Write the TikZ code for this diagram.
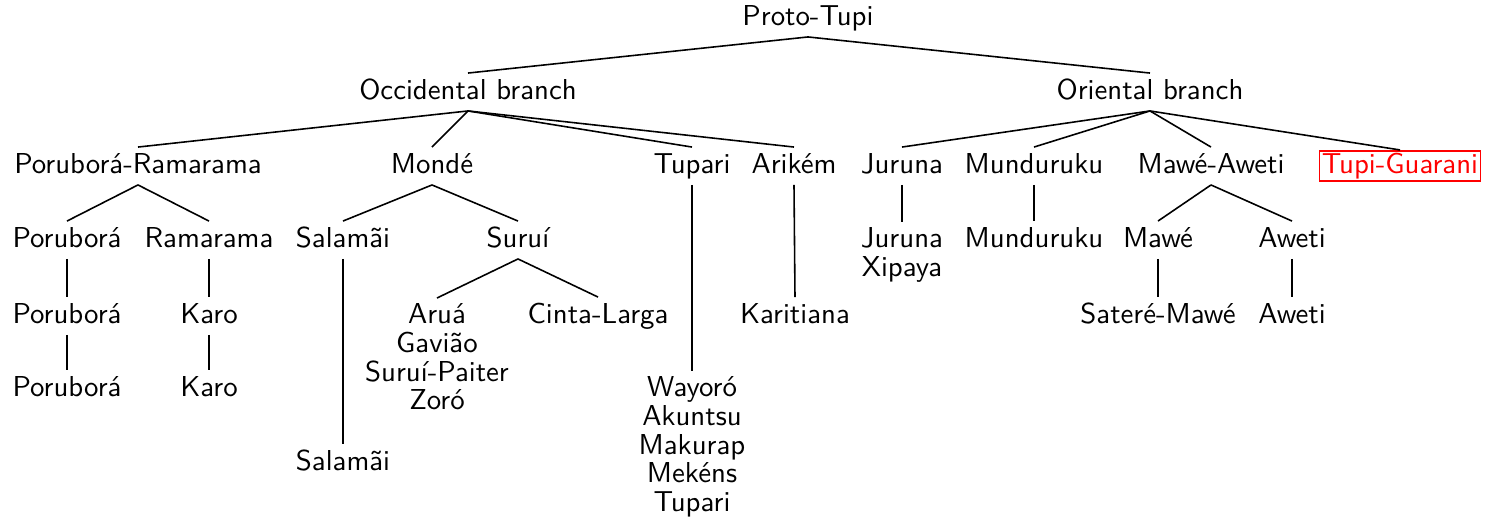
\documentclass[tikz,border=0pt]{standalone}
\usepackage{fontspec}

\begin{document}
\begin{tikzpicture}[x=0.347pt,y=-0.347pt,line width=0.55pt,every node/.style = {font=\sffamily\fontsize{10}{9.9}\selectfont, align=center, text height=7pt, text depth=2pt, inner sep=1.8pt},
  stack/.style = {text height={}, text depth={}, anchor=north}]
\useasboundingbox (0,0) rectangle (1493,517);
\node (root) at (808,18) {Proto-Tupi};
\node (occ) at (468,92) {Occidental branch};
\node (ori) at (1150,92) {Oriental branch};
% branch heads
\node (pr) at (138,166) {Poruborá-Ramarama};
\node (monde) at (432,166) {Mondé};
\node (tup) at (692,166) {Tupari};
\node (ari) at (794,166) {Arikém};
\node (jur) at (902,166) {Juruna};
\node (mun) at (1034,166) {Munduruku};
\node (mawa) at (1211,166) {Mawé-Aweti};
\node[draw=red,text=red,inner sep=0.8pt] (tg) at (1400,166) {Tupi-Guarani};
% subgroups
\node (por) at (67,240) {Poruborá};
\node (ram) at (209,240) {Ramarama};
\node (sal) at (343,240) {Salamãi};
\node (sur) at (518,240) {Suruí};
\node[stack] (jurx) at (902,222) {Juruna\\Xipaya};
\node (munl) at (1034,240) {Munduruku};
\node (mawe) at (1158,240) {Mawé};
\node (awe) at (1292,240) {Aweti};
% languages
\node (porl) at (67,316) {Poruborá};
\node (karo) at (209,316) {Karo};
\node[stack] (arua) at (437,298) {Aruá\\Gavião\\Suruí-Paiter\\Zoró};
\node (cinta) at (598,316) {Cinta-Larga};
\node (kari) at (795,316) {Karitiana};
\node (sat) at (1158,316) {Sateré-Mawé};
\node (awel) at (1292,316) {Aweti};
\node (porll) at (67,389) {Poruborá};
\node (karol) at (209,389) {Karo};
\node[stack] (way) at (692,371) {Wayoró\\Akuntsu\\Makurap\\Mekéns\\Tupari};
\node (sall) at (343,463) {Salamãi};
\foreach \a/\b in {root/occ,root/ori,occ/pr,occ/monde,occ/tup,occ/ari,ori/jur,ori/mun,ori/mawa,ori/tg,
  pr/por,pr/ram,monde/sal,monde/sur,tup/way,ari/kari,jur/jurx,mun/munl,mawa/mawe,mawa/awe,
  por/porl,ram/karo,sal/sall,sur/arua,sur/cinta,porl/porll,karo/karol,mawe/sat,awe/awel}
  \draw (\a.south) -- (\b.north);
\end{tikzpicture}
\end{document}
